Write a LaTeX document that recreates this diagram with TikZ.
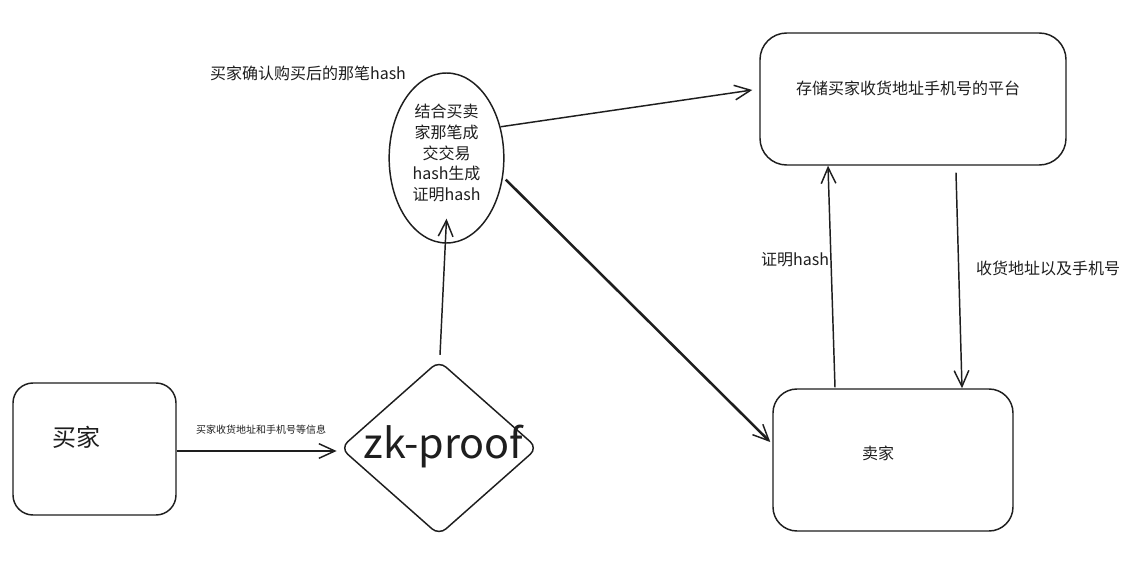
\documentclass[tikz,border=0pt]{standalone}
\usepackage{fontspec}
\setmainfont{Noto Sans CJK SC}
\usetikzlibrary{shapes.geometric,arrows.meta}
\definecolor{ink}{HTML}{1E1E1E}
\begin{document}
\begin{tikzpicture}[x=0.75pt,y=-0.75pt,
  box/.style={draw=ink,line width=1.1pt,rounded corners=15pt,rectangle,inner sep=0pt},
  conn/.style={draw=ink,line width=1.1pt,-{Straight Barb[length=12pt,width=11pt,line width=1.1pt]}},
  txt/.style={text=ink,font=\fontsize{12pt}{15.4pt}\selectfont,inner sep=0pt},
  small/.style={text=ink,font=\fontsize{7.5pt}{9pt}\selectfont,inner sep=0pt}]
\useasboundingbox[fill=white] (0,0) rectangle (1140,588);

% nodes
\node[box,minimum width=122.25pt,minimum height=99pt] (buyer) at (94.5,449) {};
\node[txt,font=\fontsize{18pt}{20pt}\selectfont] (buyertxt) at (76,437) {买家};

\node[diamond,draw=ink,line width=1.1pt,rounded corners=7pt,minimum width=148pt,minimum height=131pt,inner sep=0pt] (zk) at (439,448) {};
\node[text=ink,inner sep=0pt,font=\fontsize{31pt}{34pt}\selectfont] (zktxt) at (443.5,447) {zk-proof};

\node[ellipse,draw=ink,line width=1.1pt,minimum width=86pt,minimum height=127.5pt,inner sep=0pt] (ell) at (446.5,158) {};
\node[txt,align=center] (elltxt) at (446.5,153) {结合买卖\\家那笔成\\交交易\\hash生成\\证明hash};

\node[box,minimum width=229.5pt,minimum height=99pt,rounded corners=20pt] (platform) at (913,99) {};
\node[txt] (platformtxt) at (908,88) {存储买家收货地址手机号的平台};

\node[box,minimum width=180pt,minimum height=106.5pt,rounded corners=18pt] (seller) at (893,460) {};
\node[txt] (sellertxt) at (878,453) {卖家};

% labels
\node[small] (l1) at (261,430) {买家收货地址和手机号等信息};
\node[txt] (l2) at (308,73) {买家确认购买后的那笔hash};
\node[txt] (l3) at (795,260) {证明hash};
\node[txt] (l4) at (1048,268) {收货地址以及手机号};

% connectors
\draw[conn] ([shift={(0,2)}]buyer.east) -- ([shift={(-3,3)}]zk.west);
\draw[conn] ([shift={(1,-5)}]zk.north) -- ([shift={(0,-25)}]ell.south);
\draw[conn] (ell.30) -- ([shift={(-7,-9)}]platform.west);
\draw[conn,line width=1.9pt] ([shift={(3,0)}]ell.-21) -- ([shift={(-2,-18)}]seller.west);
\draw[conn] ([shift={(-58,-1)}]seller.north) -- ([shift={(-85,0)}]platform.south);
\draw[conn] ([shift={(43,7)}]platform.south) -- ([shift={(69,0)}]seller.north);
\end{tikzpicture}
\end{document}
